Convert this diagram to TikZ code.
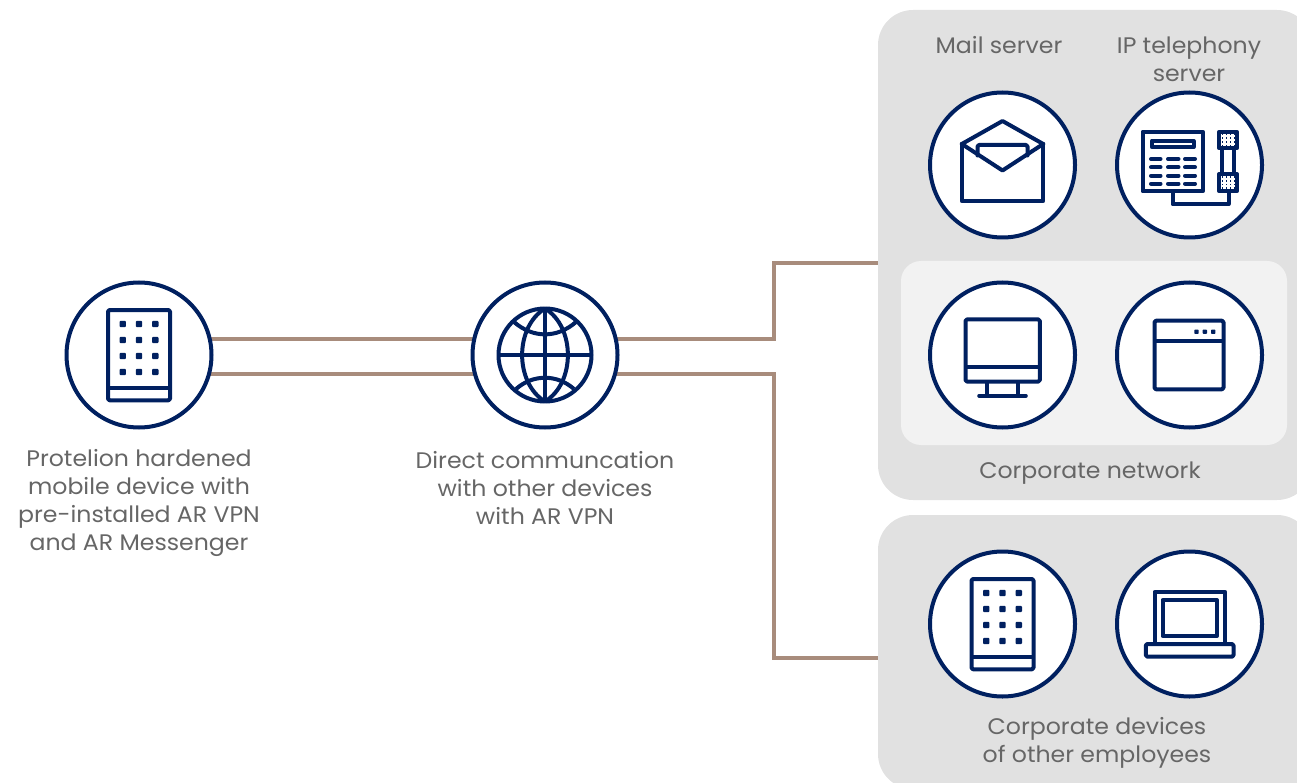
\documentclass[tikz,border=0pt]{standalone}
\usepackage{fontspec}
\setmainfont{Poppins}[FakeStretch=1.05]
\usetikzlibrary{calc}
\pgfdeclarelayer{bg}
\pgfsetlayers{bg,main}
\definecolor{navy}{HTML}{002060}
\definecolor{wire}{HTML}{A88C7C}
\definecolor{panelgrey}{HTML}{E1E1E1}
\definecolor{innergrey}{HTML}{F2F2F2}
\definecolor{txt}{HTML}{666666}
\tikzset{
  x=1pt,y=-1pt,
  panel/.style={fill=panelgrey,rounded corners=35pt,minimum width=434pt,anchor=north west,inner sep=0pt,outer sep=0pt},
  innerpanel/.style={fill=innergrey,rounded corners=20pt,minimum width=386pt,minimum height=184pt,anchor=north west,inner sep=0pt,outer sep=0pt},
  badge/.style={circle,draw=navy,fill=white,line width=4pt,minimum size=145pt,inner sep=0pt,outer sep=0pt},
  wireline/.style={draw=wire,line width=4pt,line join=miter},
  label/.style={text=txt,align=center,font=\fontsize{22.5pt}{28pt}\selectfont,inner sep=0pt},
  ic/.style={draw=navy,line width=4pt,line join=round,line cap=round},
  mobile/.pic={
    \draw[ic,rounded corners=1.5pt] (-31,-45) rectangle (31,45.3);
    \draw[ic,line cap=butt,line width=4.4pt] (-31,33) -- (31,33);
    \foreach \dx in {-16.3,0,16.3}\foreach \dy in {-31,-15,1,17}
      \fill[navy,rounded corners=1pt] (\dx-3.2,\dy-3.2) rectangle (\dx+3.2,\dy+3.2);
  },
  mailicon/.pic={
    \draw[ic] (-40.7,-21) -- (-40.7,36) -- (40.7,36) -- (40.7,-21);
    \draw[ic] (-40.7,-21) -- (0,-44) -- (40.7,-21);
    \draw[ic] (-40.7,-21) -- (0,5.5) -- (40.7,-21);
    \draw[ic,rounded corners=1.5pt] (-25,-9.5) -- (-25,-20) -- (25,-20) -- (25,-9.5);
  },
  telicon/.pic={
    \draw[ic] (-47,-33.3) rectangle (13.3,26.3);
    \draw[ic] (-37.6,-24.3) rectangle (4,-17.7);
    \foreach \dy in {-6,2.3,10.7,18.7}{
      \draw[ic] (-38.5,\dy) -- (-29,\dy);
      \draw[ic] (-21.5,\dy) -- (-11,\dy);
      \draw[ic] (-4.5,\dy) -- (5.5,\dy);
    }
    \draw[ic] (29.7,-33.3) rectangle (47.3,-16.7);
    \draw[ic] (29.7,9) rectangle (47.3,26.3);
    \draw[ic,line cap=butt] (32.3,-16.7) -- (32.3,9);
    \draw[ic,line cap=butt] (44.7,-16.7) -- (44.7,9);
    \foreach \gx in {33,37,41,45}\foreach \gy in {-30.5,-26.8,-23.1,-19.4}{
      \fill[navy] (\gx-.8,\gy-.8) rectangle (\gx+.8,\gy+.8);
      \fill[navy] (\gx-.8,\gy+41.9) rectangle (\gx+.8,\gy+43.5);
    }
    \draw[ic] (-17,26.3) -- (-17,39.3) -- (39,39.3) -- (39,26.3);
  },
  monitor/.pic={
    \draw[ic,rounded corners=1.5pt] (-37,-35.6) rectangle (37.3,26.6);
    \draw[ic,line cap=butt,line width=4.4pt] (-37,11.7) -- (37.3,11.7);
    \draw[ic,line cap=butt] (-15.3,26.6) -- (-15.3,41);
    \draw[ic,line cap=butt] (15,26.6) -- (15,41);
    \draw[ic] (-23.3,40.7) -- (23.3,40.7);
  },
  windowicon/.pic={
    \draw[ic,rounded corners=1.5pt] (-35,-34.3) rectangle (34,34.3);
    \draw[ic,line cap=butt,line width=4.4pt] (-35,-14.3) -- (35,-14.3);
    \foreach \dx in {7,15.3,23.7}
      \fill[navy,rounded corners=.8pt] (\dx-2.2,-25.5) rectangle (\dx+2.2,-21.1);
  },
  laptop/.pic={
    \draw[ic] (-35,19) -- (-35,-32) -- (35.7,-32) -- (35.7,19);
    \draw[ic] (-27,-24) rectangle (27.3,12);
    \draw[ic,rounded corners=1.5pt] (-43.7,20) rectangle (44,32.7);
  },
  globe/.pic={
    \draw[ic] (0,0) circle[radius=46.5];
    \draw[ic,line cap=butt] (0,-46.5) .. controls (-30.5,-28) and (-30.5,28) .. (0,46.5);
    \draw[ic,line cap=butt] (0,-46.5) .. controls (30.5,-28) and (30.5,28) .. (0,46.5);
    \draw[ic,line cap=butt] (0,-46.5) -- (0,46.5);
    \draw[ic,line cap=butt] (-46.5,0) -- (46.5,0);
    \draw[ic,line cap=butt] (-31,-33) .. controls (-12,-16.5) and (12,-16.5) .. (31,-33);
    \draw[ic,line cap=butt] (-29,34) .. controls (-12,19) and (12,19) .. (29,34);
  },
}
\begin{document}
\begin{tikzpicture}
\useasboundingbox (0,0) rectangle (1297,783);
% badges
\node[badge] (dev) at (139,355) {};
\node[badge] (web) at (545,355) {};
\node[badge] (mail) at (1002.5,165) {};
\node[badge] (tel) at (1189.5,165) {};
\node[badge] (mon) at (1002.5,355) {};
\node[badge] (win) at (1189.5,355) {};
\node[badge] (mob) at (1002.5,624) {};
\node[badge] (lap) at (1189.5,624) {};
% panels and connectors, behind the badges
\begin{pgfonlayer}{bg}
\clip (0,0) rectangle (1297,783);
\node[panel,minimum height=490pt] (netpanel) at (878,10) {};
\node[panel,minimum height=274pt] (emppanel) at (878,515) {};
\node[innerpanel] (inner) at (901,261) {};
\coordinate (kneeup) at (774,263);
\coordinate (kneedown) at (774,658);
\draw[wireline] (dev.13.8) -- (dev.13.8 -| web.center) -| (kneeup) -- (kneeup -| netpanel.west);
\draw[wireline] (dev.-15) -- (dev.-15 -| web.center) -| (kneedown) -- (kneedown -| emppanel.west);
\end{pgfonlayer}
% icons
\pic at (dev) {mobile};
\pic at (web) {globe};
\pic at (mail) {mailicon};
\pic at (tel) {telicon};
\pic at (mon) {monitor};
\pic at (win) {windowicon};
\pic at (mob) {mobile};
\pic at (lap) {laptop};
% labels
\node[label] (l1) at (139,503) {Protelion hardened\\mobile device with\\pre-installed AR VPN\\and AR Messenger};
\node[label] (l2) at (545,488) {Direct communcation\\with other devices\\with AR VPN};
\node[label] (l3) at (999,45) {Mail server};
\node[label] (l4) at (1189,59) {IP telephony\\server};
\node[label] (l5) at (1090,473) {Corporate network};
\node[label] (l6) at (1097,743) {Corporate devices\\of other employees};
\end{tikzpicture}
\end{document}
